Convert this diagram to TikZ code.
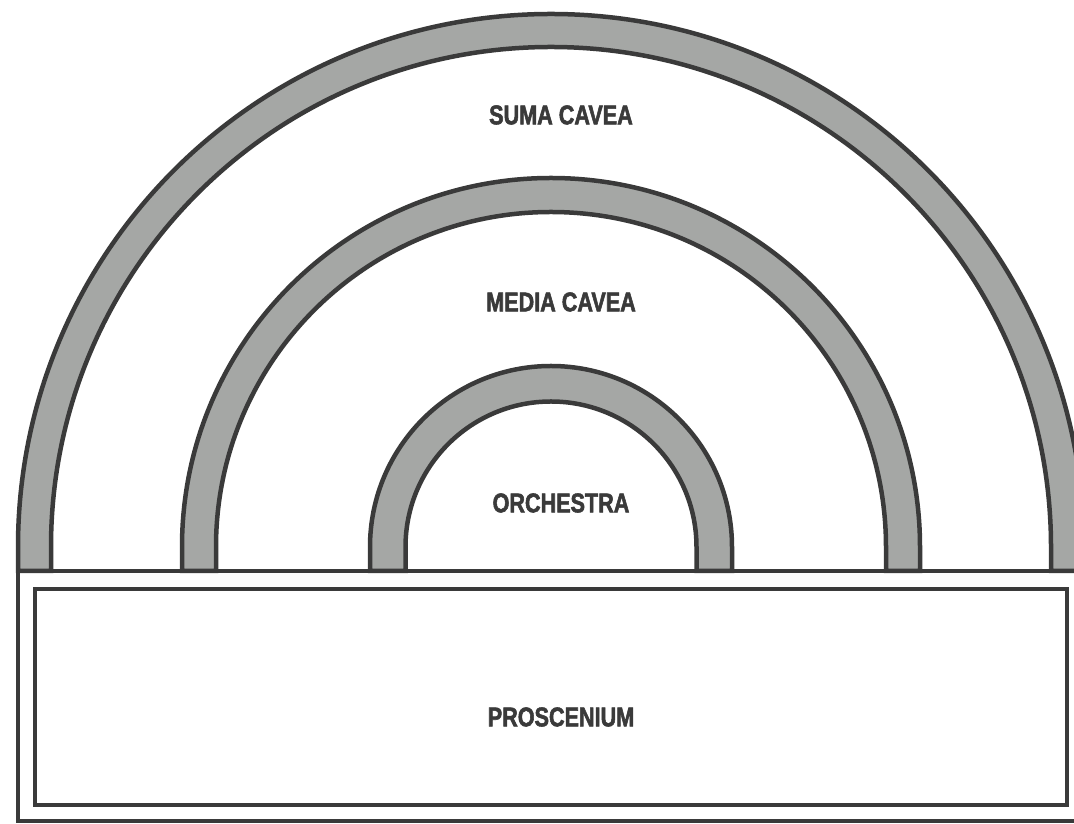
\documentclass[tikz,border=0pt]{standalone}
\usepackage{fontspec}
\setmainfont{Liberation Sans}
\newfontfamily\zonefont{Liberation Sans Bold}[FakeBold=2, FakeStretch=0.8]
\usepackage{tikz}
\usetikzlibrary{positioning}
\definecolor{wallgray}{RGB}{165, 167, 165}
\definecolor{inkdark}{RGB}{58, 58, 58}

\begin{document}
\begin{tikzpicture}[x=1pt, y=1pt,
  band/.style={draw=inkdark, fill=wallgray, line width=4.5pt},
  frame/.style={draw=inkdark, line width=4.5pt},
  zonetext/.style={font=\zonefont\fontsize{27}{29}\selectfont, text=inkdark, inner sep=0pt}
]
\useasboundingbox (0,0) rectangle (1074,824);

% Summa cavea band
\draw[band] (18,253) -- (18,277) arc[start angle=180, end angle=0, radius=533] -- (1084,253)
  -- (1051,253) -- (1051,277) arc[start angle=0, end angle=180, radius=500] -- (51,253) -- cycle;

% Media cavea band
\draw[band] (182,253) -- (182,277) arc[start angle=180, end angle=0, radius=369] -- (920,253)
  -- (886,253) -- (886,277) arc[start angle=0, end angle=180, radius=335] -- (216,253) -- cycle;

% Orchestra band
\draw[band] (370,253) -- (370,277) arc[start angle=180, end angle=0, radius=181] -- (732,253)
  -- (696.5,253) -- (696.5,277) arc[start angle=0, end angle=180, radius=145.5] -- (405.5,253) -- cycle;

% Proscenium frame
\draw[frame] (18,3) rectangle (1084,253);
\draw[frame] (35,19) rectangle (1067,235);

% Labels
\node[zonetext] (suma) at (561,709) {SUMA CAVEA};
\node[zonetext] (media) at (561,522) {MEDIA CAVEA};
\node[zonetext] (orchestra) at (561,321) {ORCHESTRA};
\node[zonetext] (proscenium) at (561,107) {PROSCENIUM};
\end{tikzpicture}
\end{document}
